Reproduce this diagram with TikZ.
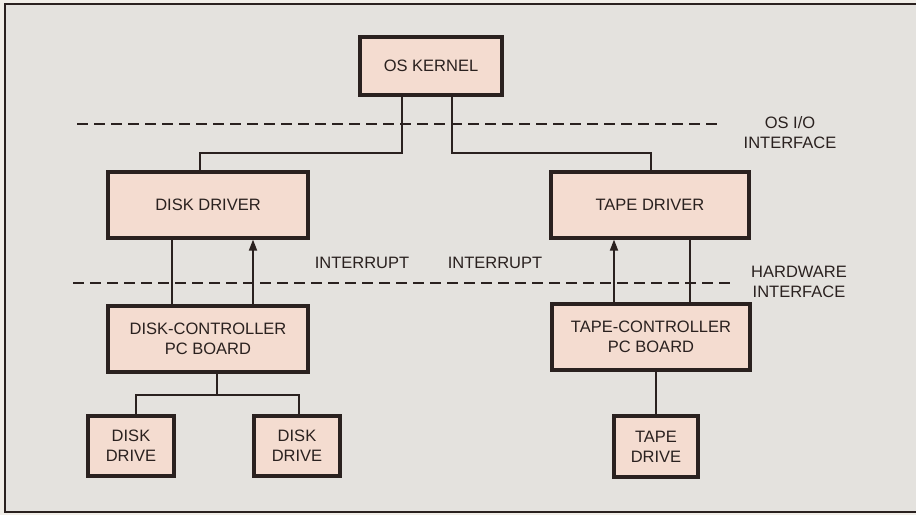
\documentclass[tikz,border=0pt]{standalone}
\usepackage{fontspec}
\setmainfont{Liberation Sans}
\usetikzlibrary{arrows.meta}
\definecolor{bgout}{HTML}{F1EEE8}
\definecolor{bgin}{HTML}{E4E2DE}
\definecolor{boxfill}{HTML}{F4DCD0}
\definecolor{ink}{HTML}{2A211F}
\tikzset{
  blk/.style={draw=ink, line width=3.2pt, fill=boxfill, rectangle, inner sep=0pt,
    align=center, text=ink, font=\fontsize{16.5}{20}\selectfont},
  conn/.style={draw=ink, line width=1.8pt},
  arr/.style={conn, -{Triangle[length=11pt,width=8pt]}},
  iface/.style={draw=ink, line width=2pt, dash pattern=on 11pt off 6pt},
  lbl/.style={text=ink, align=center, font=\fontsize{16.5}{20}\selectfont, inner sep=0pt}
}
\begin{document}
\begin{tikzpicture}[x=1pt,y=-1pt]
\useasboundingbox (0,0) rectangle (916,515);
\fill[bgout] (0,0) rectangle (916,515);
\fill[bgin] (5,4) rectangle (916,512);
\draw[ink, line width=1.8pt] (916,4) -- (5,4) -- (5,512) -- (916,512);

% interface lines
\draw[iface] (77,124) -- (720,124);
\draw[iface] (73,283) -- (730,283);

% boxes
\node[blk, minimum width=142pt, minimum height=58pt] (kernel) at (431,66) {OS KERNEL};
\node[blk, minimum width=200pt, minimum height=66pt] (ddrv) at (208,205) {DISK DRIVER};
\node[blk, minimum width=198pt, minimum height=66pt] (tdrv) at (650,205) {TAPE DRIVER};
\node[blk, minimum width=200pt, minimum height=66pt] (dctl) at (208,339) {DISK-CONTROLLER\\PC BOARD};
\node[blk, minimum width=198pt, minimum height=66pt] (tctl) at (651,337) {TAPE-CONTROLLER\\PC BOARD};
\node[blk, minimum width=86pt, minimum height=60pt] (dd1) at (131,446) {DISK\\DRIVE};
\node[blk, minimum width=86pt, minimum height=60pt] (dd2) at (297,446) {DISK\\DRIVE};
\node[blk, minimum width=84pt, minimum height=61pt] (td) at (656,446.5) {TAPE\\DRIVE};

% labels
\node[lbl] (int1) at (362,263) {INTERRUPT};
\node[lbl] (int2) at (495,263) {INTERRUPT};
\node[lbl] (osio) at (790,133) {OS I/O\\INTERFACE};
\node[lbl] (hwif) at (799,282) {HARDWARE\\INTERFACE};

% connectors
\coordinate (jl) at (200,153);
\coordinate (jr) at (651,153);
\coordinate (jd) at (217,395);
\coordinate (tv) at (690.2,283);
\draw[conn] ([xshift=-29pt]kernel.south) |- (jl) -- (jl |- ddrv.north);
\draw[conn] ([xshift=21pt]kernel.south) |- (jr) -- (jr |- tdrv.north);

\draw[conn] ([xshift=-36pt]ddrv.south) -- ([xshift=-36pt]dctl.north);
\draw[arr] ([xshift=45pt]dctl.north) -- ([xshift=45pt]ddrv.south);
\draw[arr] ([xshift=-37pt]tctl.north) -- ([xshift=-37pt]tctl.north |- tdrv.south);
\draw[conn, line width=2.1pt] (tv |- tdrv.south) -- (tv |- tctl.north);

\draw[conn] (jd |- dctl.south) -- (jd);
\draw[conn] ([xshift=5pt]dd1.north) |- (jd) -| ([xshift=2pt]dd2.north);
\draw[conn] (td.north |- tctl.south) -- (td.north);
\end{tikzpicture}
\end{document}
